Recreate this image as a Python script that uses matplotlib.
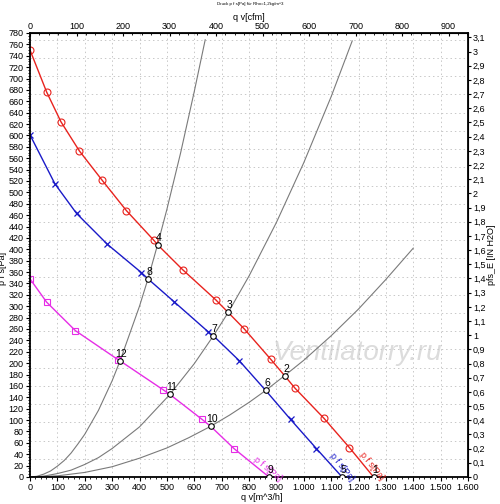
import numpy as np
import matplotlib.pyplot as plt
from matplotlib.ticker import MultipleLocator, FuncFormatter

plt.rcParams['font.family'] = ['Liberation Sans', 'DejaVu Sans']

# fan curves (q in m^3/h, p in Pa)
red_q = [0, 61, 113, 180, 264, 352, 452, 466, 558, 679, 724, 783, 879, 930, 968, 1074, 1167, 1255]
red_p = [750, 676, 624, 573, 521, 468, 416, 408, 364, 311, 289, 260, 207, 178, 156, 103, 51.5, 0]
red_mq = [0, 61, 113, 180, 264, 352, 452, 558, 679, 783, 879, 968, 1074, 1167]
red_mp = [750, 676, 624, 573, 521, 468, 416, 364, 311, 260, 207, 156, 103, 51.5]

blue_q = [0, 91, 170, 282, 407, 431, 526, 651, 670, 765, 861, 952, 1046, 1140]
blue_p = [601, 515, 463, 409, 359, 348, 308, 255, 248, 204, 152, 101, 50, 0]
blue_mq = [0, 91, 170, 282, 407, 526, 651, 765, 952, 1046]
blue_mp = [601, 515, 463, 409, 359, 308, 255, 204, 101, 50]

mag_q = [0, 61, 166, 322, 329, 487, 511, 629, 660, 745, 873]
mag_p = [348, 307, 257, 206, 204, 153, 145, 101, 89, 50, 0]
mag_mq = [0, 61, 166, 322, 487, 629, 745]
mag_mp = [348, 307, 257, 206, 153, 101, 50]

# system curves
sysA_q = [0, 25, 50, 75, 100, 125, 150, 175, 200, 250, 300, 329, 400, 431, 466, 500, 550, 600, 640]
sysA_p = [0, 1.2, 5, 10.5, 19, 29, 42, 58, 75, 117, 169, 204, 300, 348, 408, 470, 569, 677, 768]
sysB_q = [0, 50, 100, 150, 200, 250, 300, 400, 511, 600, 670, 724, 800, 900, 1000, 1100, 1177]
sysB_p = [0, 1.4, 6, 12, 22, 34, 50, 88, 145, 199, 248, 289, 353, 447, 552, 668, 766]
sysC_q = [0, 100, 200, 300, 400, 500, 580, 660, 730, 800, 861, 930, 1000, 1100, 1200, 1300, 1400]
sysC_p = [0, 2, 8, 18, 33, 51, 69, 89, 109, 131, 152, 178, 205, 248, 295, 347, 402]

# operating points
op_num = ['1', '2', '3', '4', '5', '6', '7', '8', '9', '10', '11', '12']
op_q = [1255, 930, 724, 466, 1140, 861, 670, 431, 873, 660, 511, 329]
op_p = [0, 178, 289, 408, 0, 152, 248, 348, 0, 89, 145, 204]

RED = '#e8231e'
BLUE = '#1a1ac8'
MAG = '#e62ee6'
GRAY = '#7a7a7a'
FS = 6.5

fig = plt.figure(figsize=(5, 5.04), dpi=100)
ax = fig.add_axes([0.06, 0.0536, 0.876, 0.881])

ax.plot(sysA_q, sysA_p, color=GRAY, lw=0.8)
ax.plot(sysB_q, sysB_p, color=GRAY, lw=0.8)
ax.plot(sysC_q, sysC_p, color=GRAY, lw=0.8)

ax.plot(red_q, red_p, color=RED, lw=1)
ax.plot(red_mq, red_mp, ls='none', marker='o', ms=5, mfc='none', mec=RED, mew=0.8)
ax.plot(blue_q, blue_p, color=BLUE, lw=1)
ax.plot(blue_mq, blue_mp, ls='none', marker='x', ms=5, mec=BLUE, mew=0.9)
ax.plot(mag_q, mag_p, color=MAG, lw=1)
ax.plot(mag_mq, mag_mp, ls='none', marker='s', ms=5, mfc='none', mec=MAG, mew=0.8)

ax.plot(op_q, op_p, ls='none', marker='o', ms=4, mfc='white', mec='black', mew=0.8, zorder=5)
for n, q, p in zip(op_num, op_q, op_p):
    ax.annotate(n, (q, p), xytext=(1, 1.5), textcoords='offset points',
                ha='center', va='bottom', fontsize=7.5, zorder=6)

# curve labels
ax.text(1249, 19, 'p f s[Pa]', color=RED, fontsize=6.5, rotation=-51, ha='center', va='center')
ax.text(1140, 18, 'p f s[Pa]', color=BLUE, fontsize=6.5, rotation=-51, ha='center', va='center')
ax.text(869, 14, 'p f s[Pa]', color=MAG, fontsize=6.5, rotation=-39, ha='center', va='center')

# watermark
ax.text(1195, 218, 'Ventilatorry.ru', fontsize=20, style='italic', color='#dcdcdc',
        ha='center', va='center', zorder=0)

ax.set_xlim(0, 1600)
ax.set_ylim(0, 780)
ax.xaxis.set_major_locator(MultipleLocator(100))
ax.xaxis.set_minor_locator(MultipleLocator(20))
ax.yaxis.set_major_locator(MultipleLocator(20))
ax.yaxis.set_minor_locator(MultipleLocator(5))
ax.xaxis.set_major_formatter(FuncFormatter(lambda v, pos: f'{int(v):,}'.replace(',', '.')))

# grid
for gx in np.arange(100, 1600, 100):
    ax.axvline(gx, color='#c8c8c8', lw=0.7, ls=(0, (1.5, 3)), zorder=0)
for gy in np.arange(32, 780, 32):
    ax.axhline(gy, color='#c8c8c8', lw=0.7, ls=(0, (1.5, 3)), zorder=0)

for s in ax.spines.values():
    s.set_linewidth(1.3)
ax.tick_params(which='both', labelsize=FS, direction='out', pad=1.5)
ax.tick_params(which='major', length=3)
ax.tick_params(which='minor', length=1.5)
ax.set_xlabel('q v[m^3/h]', fontsize=FS)
ax.xaxis.set_label_coords(0.53, -0.035)
ax.set_ylabel('p f s[Pa]', fontsize=FS)
ax.yaxis.set_label_coords(-0.053, 0.47)

CFM = 1.699
top = ax.secondary_xaxis('top', functions=(lambda q: q / CFM, lambda c: c * CFM))
top.xaxis.set_major_locator(MultipleLocator(100))
top.xaxis.set_minor_locator(MultipleLocator(20))
top.tick_params(which='both', labelsize=FS, direction='in', pad=1.5)
top.tick_params(which='major', length=2)
top.tick_params(which='minor', length=1.5)
top.set_xlabel('q v[cfm]', fontsize=FS, labelpad=1)

INH2O = 249.09
right = ax.secondary_yaxis('right', functions=(lambda p: p / INH2O, lambda w: w * INH2O))
right.yaxis.set_major_locator(MultipleLocator(0.1))
right.yaxis.set_major_formatter(FuncFormatter(lambda v, pos: f'{v:.1f}'.rstrip('0').rstrip('.').replace('.', ',')))
right.tick_params(which='both', labelsize=FS, direction='out', pad=1)
right.tick_params(which='major', length=2.5)
right.set_ylabel('pfs_E [IN H2O]', fontsize=FS, labelpad=1)

fig.text(0.5, 0.997, 'Druck p f s[Pa] für Rho=1,2kg/m^3', fontsize=3.2, ha='center', va='top')

fig.savefig('out.png', dpi=100)
